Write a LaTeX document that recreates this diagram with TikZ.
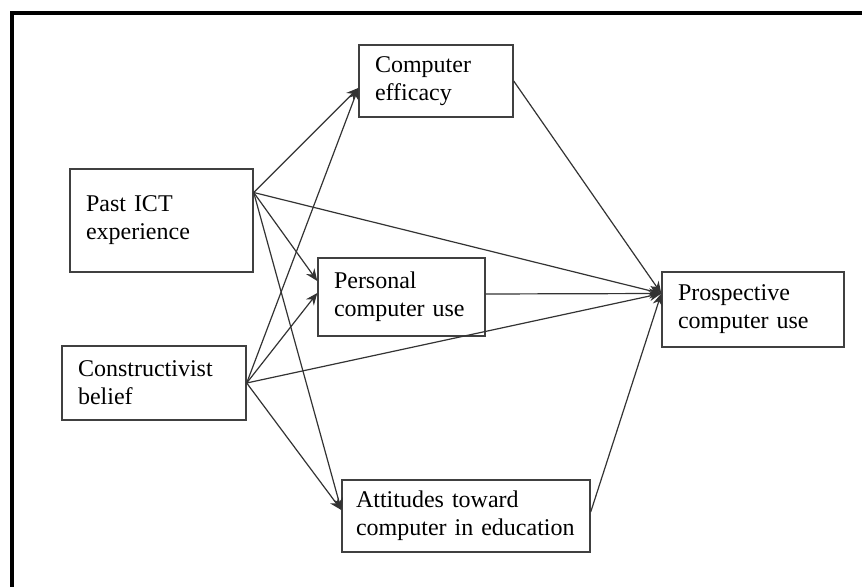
\documentclass[tikz,border=0pt]{standalone}
\usepackage{fontspec}
\setmainfont{Liberation Serif}
\usetikzlibrary{arrows.meta}

\tikzset{
  box/.style={draw=black!75, line width=0.7pt, align=left, inner xsep=8pt, inner ysep=0pt,
              font=\fontsize{12}{14}\selectfont},
  link/.style={-{Stealth[length=6pt,width=5pt]}, draw=black!80, line width=0.6pt}
}

\begin{document}
\begin{tikzpicture}[x=0.5pt,y=-0.5pt]
\useasboundingbox (0,0) rectangle (862,587);
% frame
\draw[line width=1.6pt] (12,587) -- (12,13) -- (862,13);

% boxes: name/x/y/text width/height/label
\foreach \n/\x/\y/\w/\h/\t in
   {ce/436/81/61/36/{Computer\\efficacy},
    past/161.5/220.5/75.5/51.5/{Past ICT\\experience\\[4pt]},
    per/401.5/297/67.5/39/{Personal\\computer use},
    con/154/383/76/37/{Constructivist\\belief},
    pro/753/309.5/75/37.5/{Prospective\\computer use}}
   \node[box,text width=\w pt,minimum height=\h pt] (\n) at (\x,\y) {\t};
\node[box,inner xsep=7pt,text width=110pt,minimum height=36pt] (att) at (466,516)
   {Attitudes toward\\computer in education};

% where the paths leave and meet the boxes
\coordinate (pastout) at ([yshift=14pt]past.east);
\coordinate (conout) at (con.east);
\coordinate (cein) at ([yshift=-3.5pt]ce.west);
\coordinate (perin1) at ([yshift=8pt]per.west);
\coordinate (perin2) at ([yshift=2pt]per.west);
\coordinate (attin) at ([yshift=3pt]att.west);
\coordinate (proin) at ([yshift=8pt]pro.west);
\coordinate (ceout) at (ce.east);
\coordinate (perout) at ([yshift=1.5pt]per.east);
\coordinate (attout) at ([yshift=2pt]att.east);

\foreach \a/\b in {pastout/cein,pastout/perin1,pastout/attin,pastout/proin,
                   conout/cein,conout/perin2,conout/attin,conout/proin,
                   ceout/proin,perout/proin,attout/proin}
   \draw[link] (\a) -- (\b);

\end{tikzpicture}
\end{document}
